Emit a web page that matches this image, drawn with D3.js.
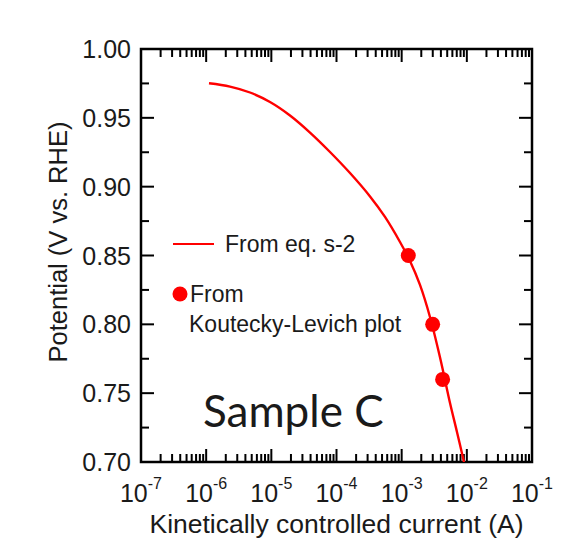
<!DOCTYPE html>
<html>
<head>
<meta charset="utf-8">
<script src="https://d3js.org/d3.v7.min.js"></script>
<style type="text/css">
    body { margin: 0; background: #fff; }
    text { font-family: Arial, "Liberation Sans", sans-serif; fill: #1a1a1a; }
</style>
</head>
<body>
<svg id="chart" width="565" height="556"></svg>
<script>
// curve "From eq. s-2" (current in A, potential in V vs RHE)
var curveCurrent = [1.105e-6, 2.32e-6, 4.71e-6, 9.54e-6, 1.934e-5, 3.92e-5, 7.95e-5, 1.612e-4, 3.27e-4, 5.55e-4,
                    9.43e-4, 1.342e-3, 1.911e-3, 2.72e-3, 3.88e-3, 5.52e-3, 7.06e-3, 9.05e-3];
var curvePotential = [0.9751, 0.9727, 0.9684, 0.9615, 0.9517, 0.9393, 0.9252, 0.9099, 0.8929, 0.8780,
                      0.8598, 0.8460, 0.8286, 0.8053, 0.7759, 0.7429, 0.7218, 0.700];

// points "From Koutecky-Levich plot"
var klCurrent = [1.264e-3, 2.99e-3, 4.25e-3];
var klPotential = [0.85, 0.80, 0.76];

var xDecades = [-7, -6, -5, -4, -3, -2, -1];
var yTicks = [0.70, 0.75, 0.80, 0.85, 0.90, 0.95, 1.00];

var svg = d3.select('#chart');
var pl = 141, pr = 532, pt = 49, pb = 462;
var red = "#ff0000";

var x = d3.scaleLog().domain([1e-7, 1e-1]).range([pl, pr]);
var y = d3.scaleLinear().domain([0.70, 1.00]).range([pb, pt]);

// minor ticks
var xMinor = [];
xDecades.slice(0, -1).forEach(function (e) {
    for (var k = 2; k <= 9; k++) xMinor.push(k * Math.pow(10, e));
});
var yMinor = yTicks.slice(0, -1).map(function (v) { return v + 0.025; });

var maj = 13, mnr = 8;
var ticks = svg.append("g").attr("stroke", "#000").attr("stroke-width", 2);

function vTicks(vals, len) {
    vals.forEach(function (v) {
        var px = x(v);
        ticks.append("line").attr("x1", px).attr("x2", px).attr("y1", pb).attr("y2", pb - len);
        ticks.append("line").attr("x1", px).attr("x2", px).attr("y1", pt).attr("y2", pt + len);
    });
}
function hTicks(vals, len) {
    vals.forEach(function (v) {
        var py = y(v);
        ticks.append("line").attr("y1", py).attr("y2", py).attr("x1", pl).attr("x2", pl + len);
        ticks.append("line").attr("y1", py).attr("y2", py).attr("x1", pr).attr("x2", pr - len);
    });
}
vTicks(xDecades.map(function (e) { return Math.pow(10, e); }), maj);
vTicks(xMinor, mnr);
hTicks(yTicks, maj);
hTicks(yMinor, mnr);

svg.append("rect")
    .attr("x", pl).attr("y", pt)
    .attr("width", pr - pl).attr("height", pb - pt)
    .attr("fill", "none").attr("stroke", "#000").attr("stroke-width", 2.5);

// y tick labels
svg.append("g").selectAll("text")
    .data(yTicks)
    .enter()
    .append("text")
    .attr("x", pl - 10)
    .attr("y", function (d) { return y(d); })
    .attr("dy", "0.36em")
    .attr("text-anchor", "end")
    .style("font-size", "25px")
    .text(function (d) { return d.toFixed(2); });

// x tick labels 10^n
var xl = svg.append("g").selectAll("text")
    .data(xDecades)
    .enter()
    .append("text")
    .attr("x", function (d) { return x(Math.pow(10, d)); })
    .attr("y", 502)
    .attr("text-anchor", "middle")
    .style("font-size", "25px");
xl.append("tspan").text("10");
xl.append("tspan").attr("dy", -13).style("font-size", "16px").text(function (d) { return String(d); });

// axis titles
svg.append("text")
    .attr("x", (pl + pr) / 2)
    .attr("y", 533)
    .attr("text-anchor", "middle")
    .style("font-size", "26.5px")
    .text("Kinetically controlled current (A)");

svg.append("text")
    .attr("transform", "translate(67,242) rotate(-90)")
    .attr("text-anchor", "middle")
    .style("font-size", "25.5px")
    .text("Potential (V vs. RHE)");

// curve, clipped to the frame
svg.append("clipPath").attr("id", "plotclip")
    .append("rect").attr("x", pl).attr("y", pt).attr("width", pr - pl).attr("height", pb - pt);

var pts = curveCurrent.map(function (c, i) { return [c, curvePotential[i]]; });
svg.append("path")
    .datum(pts)
    .attr("clip-path", "url(#plotclip)")
    .attr("fill", "none")
    .attr("stroke", red)
    .attr("stroke-width", 2.4)
    .attr("d", d3.line()
        .x(function (d) { return x(d[0]); })
        .y(function (d) { return y(d[1]); })
        .curve(d3.curveCatmullRom));

// KL points
svg.selectAll("circle.kl")
    .data(klCurrent)
    .enter()
    .append("circle")
    .attr("class", "kl")
    .attr("cx", function (d) { return x(d); })
    .attr("cy", function (d, i) { return y(klPotential[i]); })
    .attr("r", 7.5)
    .attr("fill", red);

// legend
svg.append("line")
    .attr("x1", 173).attr("x2", 214).attr("y1", 244).attr("y2", 244)
    .attr("stroke", red).attr("stroke-width", 2.2);
svg.append("text").attr("x", 225).attr("y", 252)
    .style("font-size", "23px").text("From eq. s-2");
svg.append("circle").attr("cx", 180).attr("cy", 294).attr("r", 7.5).attr("fill", red);
svg.append("text").attr("x", 190).attr("y", 302)
    .style("font-size", "23px").text("From");
svg.append("text").attr("x", 189).attr("y", 332)
    .style("font-size", "23px").text("Koutecky-Levich plot");

svg.append("text")
    .attr("x", 203).attr("y", 427)
    .style("font-family", "Lato, 'Open Sans', sans-serif")
    .style("font-size", "44px")
    .text("Sample C");
</script>
</body>
</html>
